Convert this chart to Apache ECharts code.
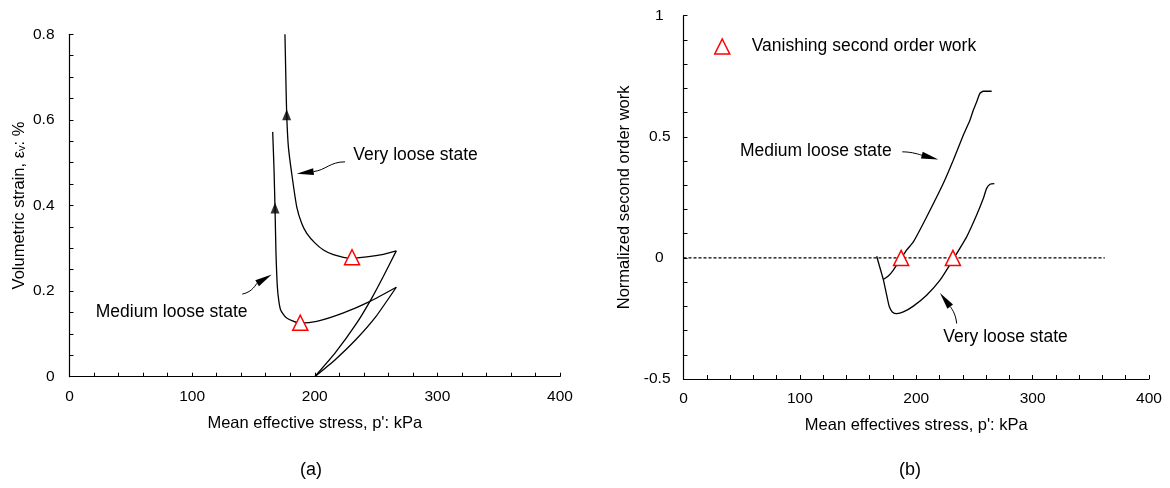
<!DOCTYPE html>
<html>
<head>
<meta charset="utf-8">
<title>Volumetric strain and second order work</title>
<script src="https://cdn.jsdelivr.net/npm/echarts@6/dist/echarts.min.js"></script>
<style>
  html, body { margin: 0; padding: 0; background: #fff; }
  #chart { width: 1170px; height: 488px; }
</style>
</head>
<body>
<div id="chart"></div>
<script>
// ---- (a) volumetric strain (%) against mean effective stress p' (kPa) ----
const veryLooseLoading = [[200, 0], [216.5, 0.055], [234.2, 0.125], [246.4, 0.183], [255.9, 0.234], [266.5, 0.294]];
const veryLooseShearing = [[266.5, 0.294], [256, 0.286], [242.4, 0.280], [230.2, 0.277], [223.4, 0.279], [215.2, 0.285],
  [207.1, 0.296], [200.3, 0.312], [193.5, 0.335], [189.4, 0.358], [185.3, 0.397], [181.2, 0.475],
  [178.5, 0.537], [177.1, 0.615], [176.3, 0.717], [175.7, 0.8]];
const mediumLoading = [[200, 0], [216, 0.038], [233, 0.085], [250, 0.141], [266.5, 0.209]];
const mediumShearing = [[266.5, 0.209], [245.1, 0.176], [223.4, 0.149], [201.6, 0.129], [188, 0.125], [177.1, 0.137],
  [172.2, 0.156], [170.6, 0.179], [169.5, 0.210], [168.4, 0.288], [167.6, 0.393], [166.8, 0.483], [165.7, 0.572]];
const vanishingA = [[230.4, 0.279], [188.2, 0.126]];
const flowArrowsA = [[177.1, 0.612], [167.6, 0.394]];

// ---- (b) normalized second order work against mean effective stress p' (kPa) ----
const sharedStart = [[166, 0.007], [171.7, -0.089]];
const mediumWork = [[171.7, -0.089], [176, -0.075], [180.3, -0.05], [186.6, -0.005], [191.7, 0.032], [197.5, 0.066],
  [208.9, 0.169], [223.2, 0.307], [231.8, 0.403], [240.4, 0.506], [246.1, 0.568], [249, 0.61],
  [251.9, 0.644], [254.7, 0.679], [257.6, 0.688], [264.8, 0.688]];
const veryLooseWork = [[171.7, -0.089], [174.6, -0.154], [176.9, -0.202], [179.4, -0.223], [183.2, -0.23],
  [188.9, -0.223], [197.5, -0.199], [208.9, -0.154], [220.4, -0.092], [231.8, -0.005], [243.3, 0.087],
  [251.9, 0.177], [257.6, 0.245], [260.5, 0.287], [263.4, 0.304], [267.1, 0.307]];
const vanishingB = [[187, 0], [231.5, 0]];
const zeroLine = [[0, 0], [362, 0]];

// ---- annotation labels and their leader curves (start, control 1, control 2, arrow tip) ----
const notesA = [
  { text: 'Very loose state', at: [231.4, 0.517], leader: [[224.7, 0.502], [212.4, 0.502], [209.2, 0.483], [185.3, 0.474]] },
  { text: 'Medium loose state', at: [21.4, 0.151], leader: [[140.9, 0.193], [149.6, 0.198], [152.1, 0.217], [164.9, 0.239]] }
];
const notesB = [
  { text: 'Medium loose state', at: [48.5, 0.44], leader: [[188, 0.438], [196.3, 0.438], [203.2, 0.426], [218.9, 0.406]] },
  { text: 'Very loose state', at: [223.2, -0.327], leader: [[234.7, -0.271], [234.1, -0.23], [229.8, -0.205], [220.4, -0.145]] }
];

const FONT = "'Liberation Sans', Arial, sans-serif";
const LEGEND_NAME = 'Vanishing second order work';

function curve(data, gridIdx, smooth) {
  return {
    type: 'line', xAxisIndex: gridIdx, yAxisIndex: gridIdx, data: data,
    showSymbol: false, symbol: 'none', smooth: smooth, silent: true,
    lineStyle: { color: '#000', width: 1.3 }
  };
}

function markers(data, gridIdx) {
  return {
    type: 'scatter', name: LEGEND_NAME, xAxisIndex: gridIdx, yAxisIndex: gridIdx, data: data,
    symbol: 'triangle', symbolSize: [15, 15], z: 5,
    itemStyle: { color: '#fff', borderColor: '#ff0000', borderWidth: 1.5, opacity: 1 }
  };
}

function notesSeries(notes, gridIdx) {
  return {
    type: 'custom', xAxisIndex: gridIdx, yAxisIndex: gridIdx, silent: true, clip: false,
    data: notes.map(n => n.leader[0]),
    encode: { x: 0, y: 1 },
    renderItem: function (params, api) {
      const n = notes[params.dataIndex];
      const p = n.leader.map(v => api.coord(v));
      const tip = p[3], c2 = p[2];
      const dx = tip[0] - c2[0], dy = tip[1] - c2[1];
      const L = Math.hypot(dx, dy) || 1;
      const ux = dx / L, uy = dy / L;
      const len = 17, hw = 3.5;
      const base = [tip[0] - ux * len, tip[1] - uy * len];
      const at = api.coord(n.at);
      return {
        type: 'group',
        children: [
          {
            type: 'bezierCurve',
            shape: { x1: p[0][0], y1: p[0][1], cpx1: p[1][0], cpy1: p[1][1], cpx2: p[2][0], cpy2: p[2][1], x2: base[0], y2: base[1] },
            style: { stroke: '#000', lineWidth: 1, fill: null }
          },
          {
            type: 'polygon',
            shape: { points: [tip, [base[0] - uy * hw, base[1] + ux * hw], [base[0] + uy * hw, base[1] - ux * hw]] },
            style: { fill: '#000' }
          },
          {
            type: 'text', x: at[0], y: at[1],
            style: { text: n.text, fill: '#000', fontSize: 17.5, fontFamily: FONT, align: 'left', verticalAlign: 'middle' }
          }
        ]
      };
    }
  };
}

const axisCommon = {
  axisLine: { onZero: false, lineStyle: { color: '#000', width: 1.2 } },
  axisTick: { inside: true, length: 4, lineStyle: { color: '#000', width: 1 } },
  splitLine: { show: false },
  nameLocation: 'middle',
  nameTextStyle: { color: '#000', fontSize: 16.5, fontFamily: FONT }
};

function xAxis(gridIdx, name) {
  return Object.assign({}, axisCommon, {
    type: 'value', gridIndex: gridIdx, min: 0, max: 400, interval: 20,
    name: name, nameGap: 38,
    axisLabel: {
      color: '#000', fontSize: 15.5, fontFamily: FONT, margin: 12,
      formatter: v => (Math.round(v) % 100 === 0 ? String(Math.round(v)) : '')
    }
  });
}

const option = {
  animation: false,
  backgroundColor: '#fff',
  grid: [
    { left: 69.5, top: 34.3, width: 490.5, height: 342.4, outerBoundsMode: 'none' },
    { left: 683.5, top: 15.7, width: 465.5, height: 363.3, outerBoundsMode: 'none' }
  ],
  legend: {
    data: [{ name: LEGEND_NAME, icon: 'triangle' }],
    left: 714, top: 37.5, padding: 0, itemWidth: 15, itemHeight: 15, selectedMode: false,
    itemStyle: { color: '#fff', borderColor: '#ff0000', borderWidth: 1.5 },
    textStyle: { color: '#000', fontSize: 17.5, fontFamily: FONT, padding: [0, 0, 0, 17] }
  },
  xAxis: [
    xAxis(0, "Mean effective stress, p': kPa"),
    xAxis(1, "Mean effectives stress, p': kPa")
  ],
  yAxis: [
    Object.assign({}, axisCommon, {
      type: 'value', gridIndex: 0, min: 0, max: 0.8, interval: 0.05,
      name: 'Volumetric strain, \u03b5{sub|v}: %', nameGap: 42,
      nameTextStyle: {
        color: '#000', fontSize: 16.5, fontFamily: FONT,
        rich: { sub: { fontSize: 11, fontFamily: FONT, color: '#000', lineHeight: 8, verticalAlign: 'bottom' } }
      },
      axisLabel: {
        color: '#000', fontSize: 15.5, fontFamily: FONT, margin: 15,
        formatter: v => { const r = Math.round(v * 20); return r % 4 === 0 ? String(r / 20) : ''; }
      }
    }),
    Object.assign({}, axisCommon, {
      type: 'value', gridIndex: 1, min: -0.5, max: 1, interval: 0.1,
      name: 'Normalized second order work', nameGap: 51,
      axisLabel: {
        color: '#000', fontSize: 15.5, fontFamily: FONT, margin: 13,
        formatter: v => {
          const r = Math.round(v * 10);
          if (r % 5 !== 0) return '';
          const s = String(r / 10);
          return r % 10 === 0 ? '{i|' + s + '}' : s;
        },
        rich: { i: { fontSize: 15.5, fontFamily: FONT, color: '#000', padding: [0, 7, 0, 0] } }
      }
    })
  ],
  graphic: [
    { type: 'text', x: 311, y: 470, style: { text: '(a)', fontSize: 18, fontFamily: FONT, fill: '#000', align: 'center', verticalAlign: 'middle' } },
    { type: 'text', x: 910, y: 470, style: { text: '(b)', fontSize: 18, fontFamily: FONT, fill: '#000', align: 'center', verticalAlign: 'middle' } }
  ],
  series: [
    // (a)
    curve(veryLooseLoading, 0, 0.15),
    curve(veryLooseShearing, 0, 0.2),
    curve(mediumLoading, 0, 0.15),
    curve(mediumShearing, 0, 0.2),
    markers(vanishingA, 0),
    {
      type: 'scatter', xAxisIndex: 0, yAxisIndex: 0, data: flowArrowsA, silent: true, z: 4,
      symbol: 'path://M5,0L10,13L0,13Z', symbolSize: [9, 11], itemStyle: { color: '#000' }
    },
    notesSeries(notesA, 0),
    // (b)
    {
      type: 'line', xAxisIndex: 1, yAxisIndex: 1, data: zeroLine, showSymbol: false, symbol: 'none', silent: true,
      lineStyle: { color: '#000', width: 1.2, type: [3, 2] }
    },
    curve(sharedStart, 1, false),
    curve(mediumWork, 1, 0.2),
    curve(veryLooseWork, 1, 0.2),
    markers(vanishingB, 1),
    notesSeries(notesB, 1)
  ]
};

const chart = echarts.init(document.getElementById('chart'), null, { renderer: 'canvas' });
chart.setOption(option);
</script>
</body>
</html>
